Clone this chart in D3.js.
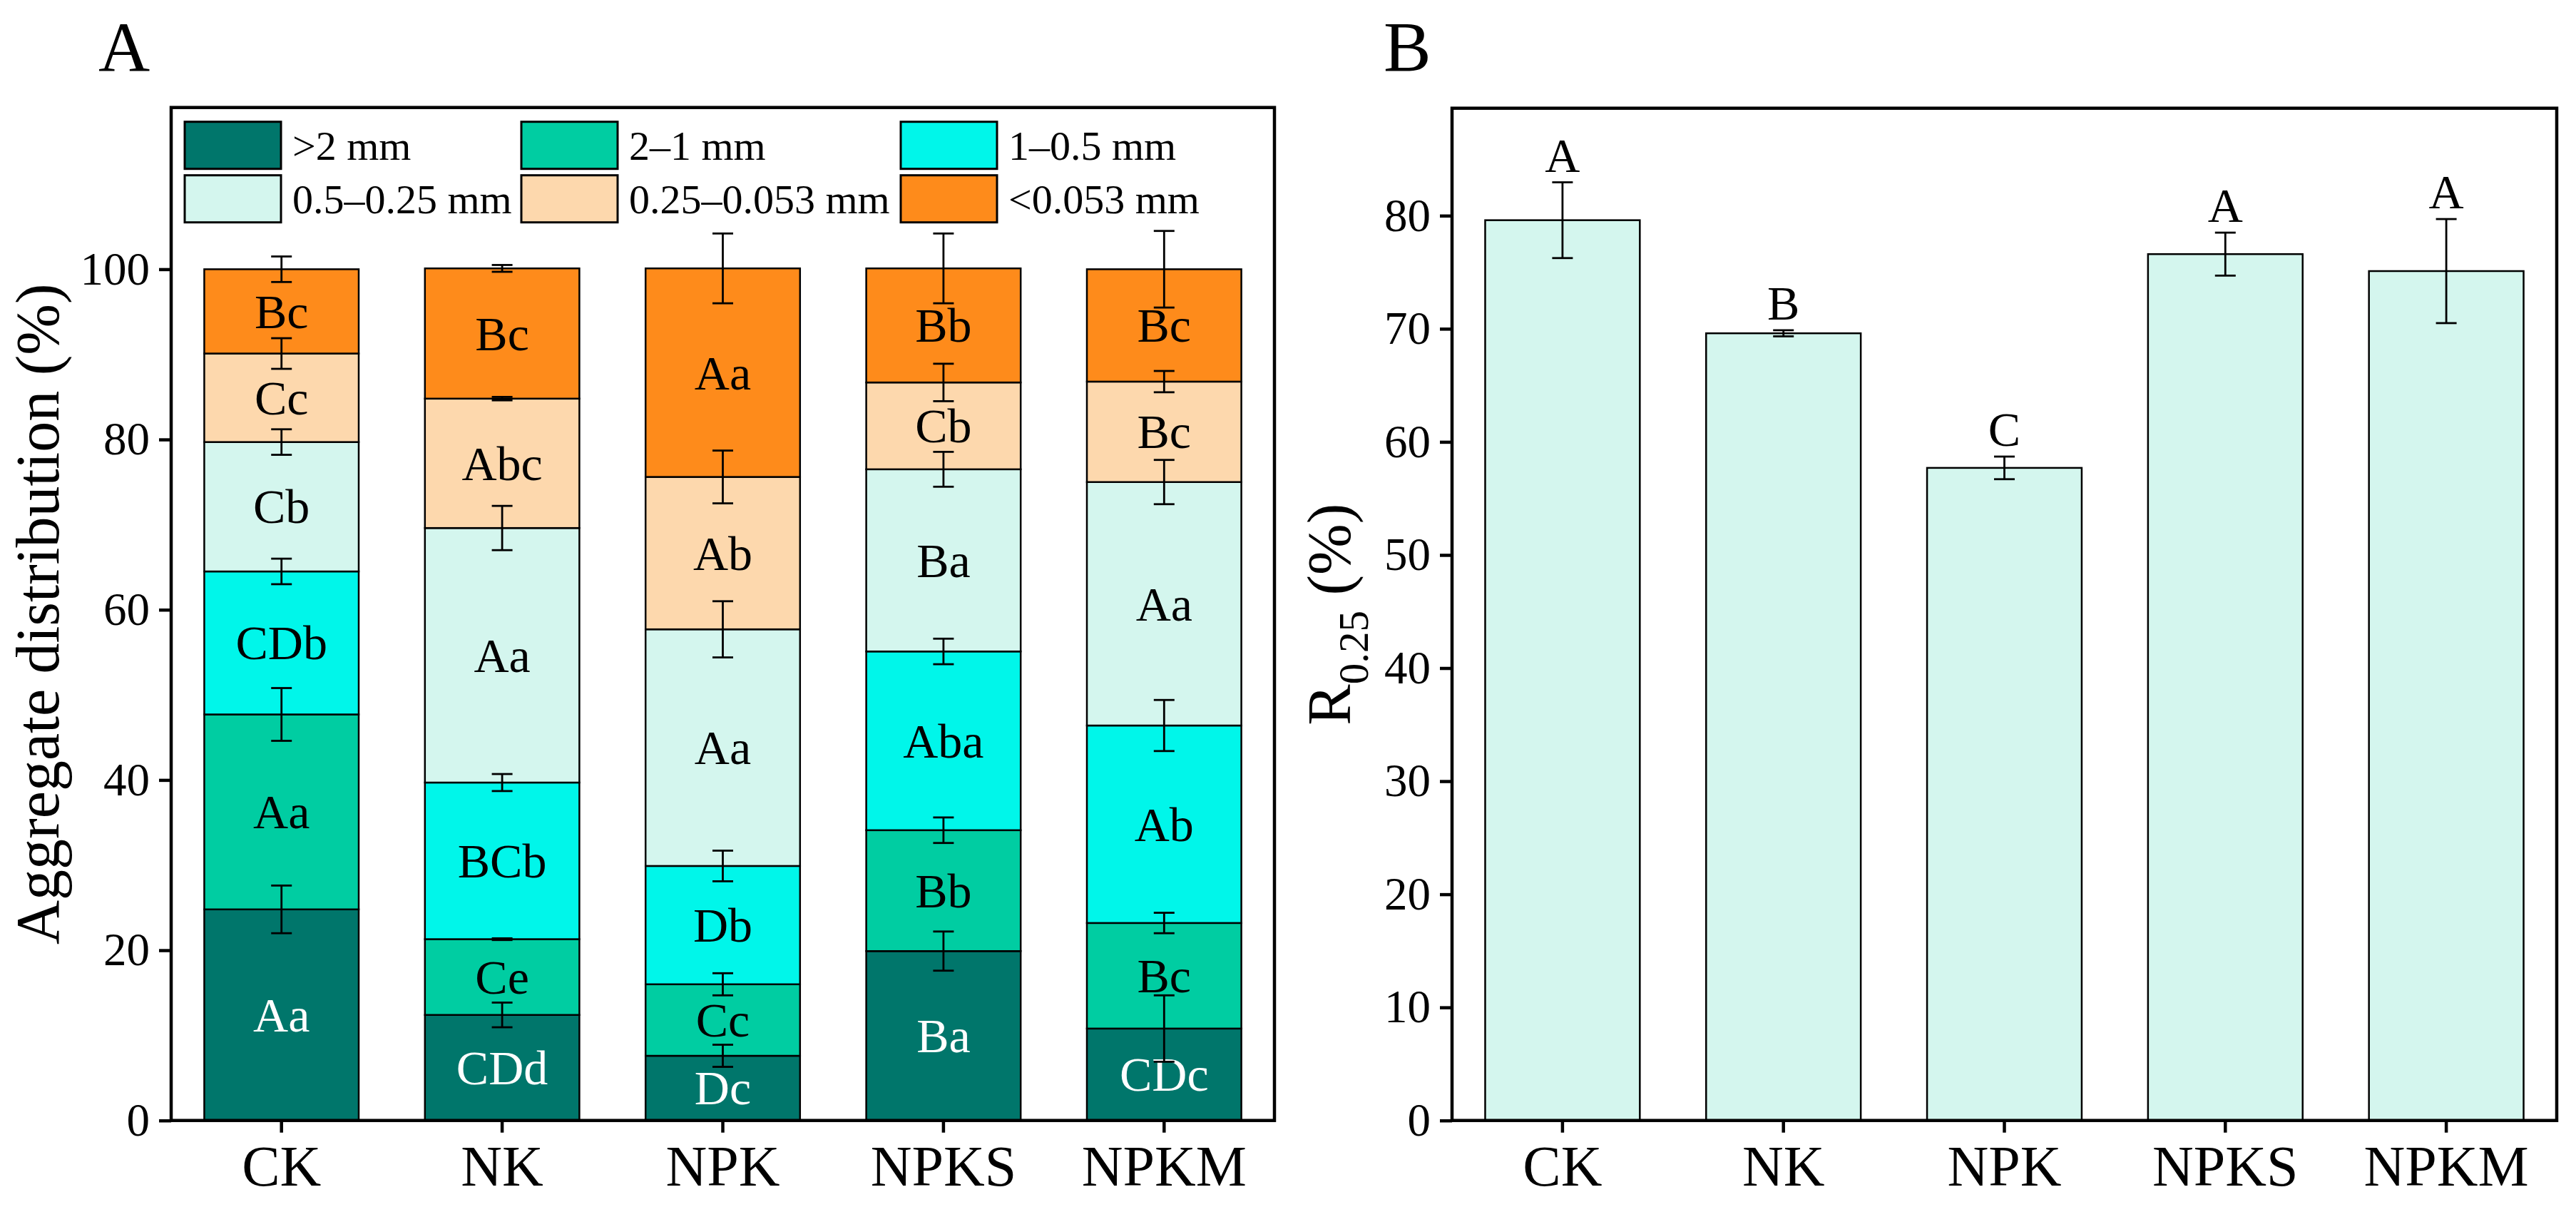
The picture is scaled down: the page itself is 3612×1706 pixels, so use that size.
<!DOCTYPE html>
<html>
<head>
<meta charset="utf-8">
<script src="https://cdn.jsdelivr.net/npm/d3@7"></script>
<style>
  body { margin: 0; background: #fff; }
  text { font-family: "Times New Roman", "Liberation Serif", serif; }
</style>
</head>
<body>
<div id="chart"></div>
<script>
// treatments
var categories = ["CK", "NK", "NPK", "NPKS", "NPKM"];

// aggregate size classes (bottom to top of the stack)
var sizeClasses = [">2 mm", "2\u20131 mm", "1\u20130.5 mm", "0.5\u20130.25 mm", "0.25\u20130.053 mm", "<0.053 mm"];
var classColors = ["#00766B", "#00CDA2", "#00F6EA", "#D4F6EE", "#FDD8AD", "#FE8B1B"];

// % of each size class per treatment (order follows categories)
var gt2      = [24.8, 12.4, 7.6, 19.9, 10.8];
var s2to1    = [22.9, 8.9, 8.4, 14.2, 12.4];
var s1to05   = [16.8, 18.4, 13.9, 21.0, 23.2];
var s05to025 = [15.2, 29.9, 27.8, 21.4, 28.6];
var s025to0053 = [10.4, 15.2, 17.9, 10.2, 11.8];
var lt0053   = [9.9, 15.3, 24.5, 13.4, 13.2];

// error (SD) drawn at the top of each segment
var gt2Err      = [2.8, 1.45, 1.3, 2.3, 3.9];
var s2to1Err    = [3.1, 0.1, 1.3, 1.5, 1.2];
var s1to05Err   = [1.5, 1.0, 1.8, 1.5, 3.0];
var s05to025Err = [1.5, 2.6, 3.3, 2.05, 2.6];
var s025to0053Err = [1.8, 0.2, 3.1, 2.2, 1.25];
var lt0053Err   = [1.5, 0.4, 4.1, 4.1, 4.5];

// significance letters inside segments
var gt2Lab      = ["Aa", "CDd", "Dc", "Ba", "CDc"];
var s2to1Lab    = ["Aa", "Ce", "Cc", "Bb", "Bc"];
var s1to05Lab   = ["CDb", "BCb", "Db", "Aba", "Ab"];
var s05to025Lab = ["Cb", "Aa", "Aa", "Ba", "Aa"];
var s025to0053Lab = ["Cc", "Abc", "Ab", "Cb", "Bc"];
var lt0053Lab   = ["Bc", "Bc", "Aa", "Bb", "Bc"];

// R0.25 panel
var r025 = [79.6, 69.6, 57.7, 76.6, 75.1];
var r025Err = [3.35, 0.27, 1.0, 1.9, 4.6];
var r025Lab = ["A", "B", "C", "A", "A"];

var yTicksA = [0, 20, 40, 60, 80, 100];
var yTicksB = [0, 10, 20, 30, 40, 50, 60, 70, 80];

(function() {
	var W = 3612, H = 1706;
	var svg = d3.select("#chart").append("svg")
		.attr("width", W)
		.attr("height", H);

	var series = [gt2, s2to1, s1to05, s05to025, s025to0053, lt0053];
	var seriesErr = [gt2Err, s2to1Err, s1to05Err, s05to025Err, s025to0053Err, lt0053Err];
	var seriesLab = [gt2Lab, s2to1Lab, s1to05Lab, s05to025Lab, s025to0053Lab, lt0053Lab];

	var base = 1570.7;
	var tickFont = 65, catFont = 80, titleFont = 86, inFont = 68;

	// ---------- Panel A ----------
	var A = { left: 240, right: 1787, top: 150.7 };
	var xA = d3.scaleBand().domain(categories).range([A.left, A.right])
		.paddingInner(0.3).paddingOuter(0.15);
	var yA = d3.scaleLinear().domain([0, 119]).range([base, A.top]);

	// stacked rows
	var rows = categories.map(function(c, i) {
		var row = { cat: c };
		sizeClasses.forEach(function(s, k) { row[s] = series[k][i]; });
		return row;
	});
	var stacked = d3.stack().keys(sizeClasses)(rows);

	var gA = svg.append("g");
	var layers = gA.selectAll("g.layer")
		.data(stacked)
		.enter().append("g")
		.attr("class", "layer")
		.attr("fill", function(d, k) { return classColors[k]; });

	layers.selectAll("rect")
		.data(function(d) { return d; })
		.enter().append("rect")
		.attr("x", function(d) { return xA(d.data.cat); })
		.attr("width", xA.bandwidth())
		.attr("y", function(d) { return yA(d[1]); })
		.attr("height", function(d) { return yA(d[0]) - yA(d[1]); })
		.attr("stroke", "#000")
		.attr("stroke-width", 2.5);

	// segment letters
	stacked.forEach(function(layer, k) {
		gA.selectAll("text.seg" + k)
			.data(layer)
			.enter().append("text")
			.attr("class", "seg" + k)
			.attr("x", function(d) { return xA(d.data.cat) + xA.bandwidth() / 2; })
			.attr("y", function(d) { return yA((d[0] + d[1]) / 2); })
			.attr("dy", "0.34em")
			.attr("text-anchor", "middle")
			.attr("font-size", inFont)
			.attr("fill", k === 0 ? "#fff" : "#000")
			.text(function(d, i) { return seriesLab[k][i]; });
	});

	// error bars at segment tops
	var cap = 14.5;
	stacked.forEach(function(layer, k) {
		var eb = gA.selectAll("g.err" + k)
			.data(layer)
			.enter().append("g")
			.attr("class", "err" + k)
			.attr("stroke", "#000")
			.attr("stroke-width", 2.8);
		eb.append("line")
			.attr("x1", function(d) { return xA(d.data.cat) + xA.bandwidth() / 2; })
			.attr("x2", function(d) { return xA(d.data.cat) + xA.bandwidth() / 2; })
			.attr("y1", function(d, i) { return yA(d[1] - seriesErr[k][i]); })
			.attr("y2", function(d, i) { return yA(d[1] + seriesErr[k][i]); });
		[-1, 1].forEach(function(sgn) {
			eb.append("line")
				.attr("x1", function(d) { return xA(d.data.cat) + xA.bandwidth() / 2 - cap; })
				.attr("x2", function(d) { return xA(d.data.cat) + xA.bandwidth() / 2 + cap; })
				.attr("y1", function(d, i) { return yA(d[1] + sgn * seriesErr[k][i]); })
				.attr("y2", function(d, i) { return yA(d[1] + sgn * seriesErr[k][i]); });
		});
	});

	// legend
	var legCols = [259, 731, 1263], legRows = [170.7, 245.7];
	var leg = gA.selectAll("g.leg")
		.data(sizeClasses)
		.enter().append("g")
		.attr("class", "leg")
		.attr("transform", function(d, i) {
			return "translate(" + legCols[i % 3] + "," + legRows[Math.floor(i / 3)] + ")";
		});
	leg.append("rect")
		.attr("width", 135).attr("height", 66)
		.attr("fill", function(d, i) { return classColors[i]; })
		.attr("stroke", "#000").attr("stroke-width", 3);
	leg.append("text")
		.attr("x", 151).attr("y", 53)
		.attr("font-size", 58)
		.text(function(d) { return d; });

	drawAxes(gA, xA, yA, yTicksA, A);

	gA.append("text")
		.attr("transform", "translate(82," + (A.top + base) / 2 + ") rotate(-90)")
		.attr("text-anchor", "middle")
		.attr("font-size", titleFont)
		.text("Aggregate distribution (%)");

	svg.append("text").attr("x", 138).attr("y", 100)
		.attr("font-size", 100).text("A");

	// ---------- Panel B ----------
	var B = { left: 2036, right: 3585, top: 151.7 };
	var xB = d3.scaleBand().domain(categories).range([B.left, B.right])
		.paddingInner(0.3).paddingOuter(0.15);
	var yB = d3.scaleLinear().domain([0, 89.5]).range([base, B.top]);

	var gB = svg.append("g");
	gB.selectAll("rect.bar")
		.data(r025)
		.enter().append("rect")
		.attr("class", "bar")
		.attr("x", function(d, i) { return xB(categories[i]); })
		.attr("width", xB.bandwidth())
		.attr("y", function(d) { return yB(d); })
		.attr("height", function(d) { return base - yB(d); })
		.attr("fill", classColors[3])
		.attr("stroke", "#000")
		.attr("stroke-width", 2.5);

	var ebB = gB.selectAll("g.errB")
		.data(r025)
		.enter().append("g")
		.attr("class", "errB")
		.attr("stroke", "#000")
		.attr("stroke-width", 2.8);
	function cx(i) { return xB(categories[i]) + xB.bandwidth() / 2; }
	ebB.append("line")
		.attr("x1", function(d, i) { return cx(i); })
		.attr("x2", function(d, i) { return cx(i); })
		.attr("y1", function(d, i) { return yB(d - r025Err[i]); })
		.attr("y2", function(d, i) { return yB(d + r025Err[i]); });
	[-1, 1].forEach(function(sgn) {
		ebB.append("line")
			.attr("x1", function(d, i) { return cx(i) - cap; })
			.attr("x2", function(d, i) { return cx(i) + cap; })
			.attr("y1", function(d, i) { return yB(d + sgn * r025Err[i]); })
			.attr("y2", function(d, i) { return yB(d + sgn * r025Err[i]); });
	});

	gB.selectAll("text.sig")
		.data(r025)
		.enter().append("text")
		.attr("class", "sig")
		.attr("x", function(d, i) { return cx(i); })
		.attr("y", function(d, i) { return yB(d + r025Err[i]) - 15; })
		.attr("text-anchor", "middle")
		.attr("font-size", inFont)
		.text(function(d, i) { return r025Lab[i]; });

	drawAxes(gB, xB, yB, yTicksB, B);

	var yt = gB.append("text")
		.attr("transform", "translate(1893," + (B.top + base) / 2 + ") rotate(-90)")
		.attr("text-anchor", "middle")
		.attr("font-size", titleFont);
	yt.append("tspan").text("R");
	yt.append("tspan").attr("font-size", 59).attr("dy", 25).text("0.25");
	yt.append("tspan").attr("dy", -25).text(" (%)");

	svg.append("text").attr("x", 1940).attr("y", 99)
		.attr("font-size", 100).text("B");

	function drawAxes(g, x, y, ticks, box) {
		var ax = g.append("g")
			.attr("transform", "translate(" + box.left + ",0)")
			.call(d3.axisLeft(y).tickValues(ticks).tickSize(17).tickPadding(13));
		ax.select(".domain").remove();
		ax.selectAll("line").attr("stroke-width", 4.5);
		ax.selectAll("text").attr("font-size", tickFont)
			.attr("font-family", "'Times New Roman', 'Liberation Serif', serif");

		var bx = g.append("g")
			.attr("transform", "translate(0," + base + ")")
			.call(d3.axisBottom(x).tickSize(17));
		bx.select(".domain").remove();
		bx.selectAll("line").attr("stroke-width", 4.5);
		bx.selectAll("text").attr("font-size", catFont)
			.attr("font-family", "'Times New Roman', 'Liberation Serif', serif")
			.attr("dy", 0).attr("y", 91);

		g.append("rect")
			.attr("x", box.left).attr("y", box.top)
			.attr("width", box.right - box.left)
			.attr("height", base - box.top)
			.attr("fill", "none")
			.attr("stroke", "#000")
			.attr("stroke-width", 4.5);
	}
})();
</script>
</body>
</html>
